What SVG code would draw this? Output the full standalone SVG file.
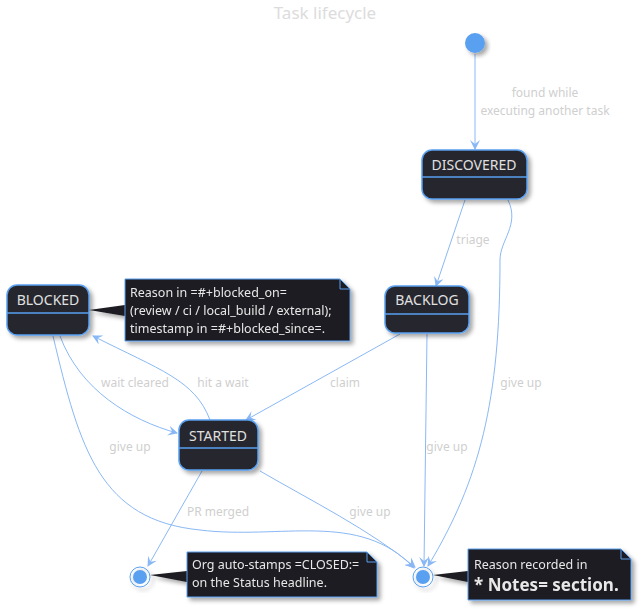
<svg xmlns="http://www.w3.org/2000/svg" width="642" height="611" viewBox="0 0 642 611">
<defs>
<filter id="sh" x="-20%" y="-20%" width="150%" height="150%"><feDropShadow dx="3" dy="3" stdDeviation="2" flood-color="#000" flood-opacity="0.35"/></filter>
<marker id="ar" viewBox="0 0 10 10" refX="9" refY="5" markerWidth="10" markerHeight="10" orient="auto" markerUnits="userSpaceOnUse"><path d="M0,0 L10,5 L0,10 L4,5 Z" fill="#8ab8f5"/></marker>
</defs>
<style>
text{font-family:"Noto Sans","DejaVu Sans",sans-serif;font-weight:normal}
.st rect{fill:#27272d;stroke:#5aa0f0;stroke-width:1.5}
.st line{stroke:#5aa0f0;stroke-width:1.5}
.st text{fill:#e0e0e0;font-size:14px;text-anchor:middle}
.lbl{fill:#cfcfcf;font-size:12px;text-anchor:middle}
#edges path{fill:none;stroke:#8ab8f5;stroke-width:1;marker-end:url(#ar)}
.note path.b{fill:#1b1b20;stroke:#5aa0f0;stroke-width:1}
.note text{fill:#e8e8e8;font-size:12.5px}
.note text.big{font-size:17px;font-weight:bold}
</style>
<rect width="642" height="611" fill="#fff"/>
<text x="325" y="19" text-anchor="middle" font-size="17" fill="#dcdcdc">Task lifecycle</text>
<g id="edges">
<path d="M475,54 L475,149"/>
<path d="M465,200 L436,286"/>
<path d="M508,200 C520,225 500,240 500,260 C500,400 480,480 428,566"/>
<path d="M400,334 L246,420"/>
<path d="M427,334 L424,566"/>
<path d="M60,336 C80,390 130,420 177,433"/>
<path d="M210,420 C195,380 160,370 93,336"/>
<path d="M53,336 C80,450 100,520 200,530 C280,540 360,510 414,568"/>
<path d="M202,471 L148,566"/>
<path d="M260,471 C310,500 370,530 415,567"/>
</g>
<text class="lbl" x="545" y="97">found while</text>
<text class="lbl" x="545" y="115">executing another task</text>
<text class="lbl" x="473" y="244">triage</text>
<text class="lbl" x="521" y="387">give up</text>
<text class="lbl" x="345" y="387">claim</text>
<text class="lbl" x="447" y="451">give up</text>
<text class="lbl" x="135" y="387">wait cleared</text>
<text class="lbl" x="223" y="387">hit a wait</text>
<text class="lbl" x="130" y="451">give up</text>
<text class="lbl" x="218" y="516">PR merged</text>
<text class="lbl" x="370" y="516">give up</text>
<g id="start"><circle cx="475" cy="43" r="10" fill="#5aa0f0" filter="url(#sh)"/></g>
<g id="discovered" class="st"><rect x="422" y="150" width="105" height="49" rx="10" filter="url(#sh)"/><line x1="422" y1="177" x2="527" y2="177"/><text x="474" y="170">DISCOVERED</text></g>
<g id="backlog" class="st"><rect x="385" y="286" width="84" height="47" rx="10" filter="url(#sh)"/><line x1="385" y1="314" x2="469" y2="314"/><text x="427" y="305">BACKLOG</text></g>
<g id="blocked" class="st"><rect x="7" y="285" width="82" height="50" rx="10" filter="url(#sh)"/><line x1="7" y1="313" x2="89" y2="313"/><text x="48" y="305">BLOCKED</text></g>
<g id="started" class="st"><rect x="179" y="420" width="79" height="50" rx="10" filter="url(#sh)"/><line x1="179" y1="448" x2="258" y2="448"/><text x="218" y="441">STARTED</text></g>
<g id="end1"><circle cx="140" cy="577" r="10" fill="none" stroke="#5aa0f0" filter="url(#sh)"/><circle cx="140" cy="577" r="7" fill="#5aa0f0"/></g>
<g id="end2"><circle cx="423" cy="577" r="10" fill="none" stroke="#5aa0f0" filter="url(#sh)"/><circle cx="423" cy="577" r="7" fill="#5aa0f0"/></g>
<g id="note1" class="note" filter="url(#sh)"><path d="M89,310 L125,305 L125,316 Z" fill="#1b1b20"/><path class="b" d="M125,279 H340 L350,289 V341 H125 Z"/><path d="M340,279 V289 H350" fill="none" stroke="#5aa0f0"/><text x="130" y="297">Reason in =#+blocked_on=</text><text x="130" y="315">(review / ci / local_build / external);</text><text x="130" y="333">timestamp in =#+blocked_since=.</text></g>
<g id="note2" class="note" filter="url(#sh)"><path d="M150,575 L187,571 L187,582 Z" fill="#1b1b20"/><path class="b" d="M187,552 H367 L377,562 V597 H187 Z"/><path d="M367,552 V562 H377" fill="none" stroke="#5aa0f0"/><text x="192" y="569">Org auto-stamps =CLOSED:=</text><text x="192" y="587">on the Status headline.</text></g>
<g id="note3" class="note" filter="url(#sh)"><path d="M433,575 L468,571 L468,582 Z" fill="#1b1b20"/><path class="b" d="M468,549 H621 L631,559 V600 H468 Z"/><path d="M621,549 V559 H631" fill="none" stroke="#5aa0f0"/><text x="474" y="569">Reason recorded in</text><text class="big" x="474" y="591">* Notes= section.</text></g>
</svg>
